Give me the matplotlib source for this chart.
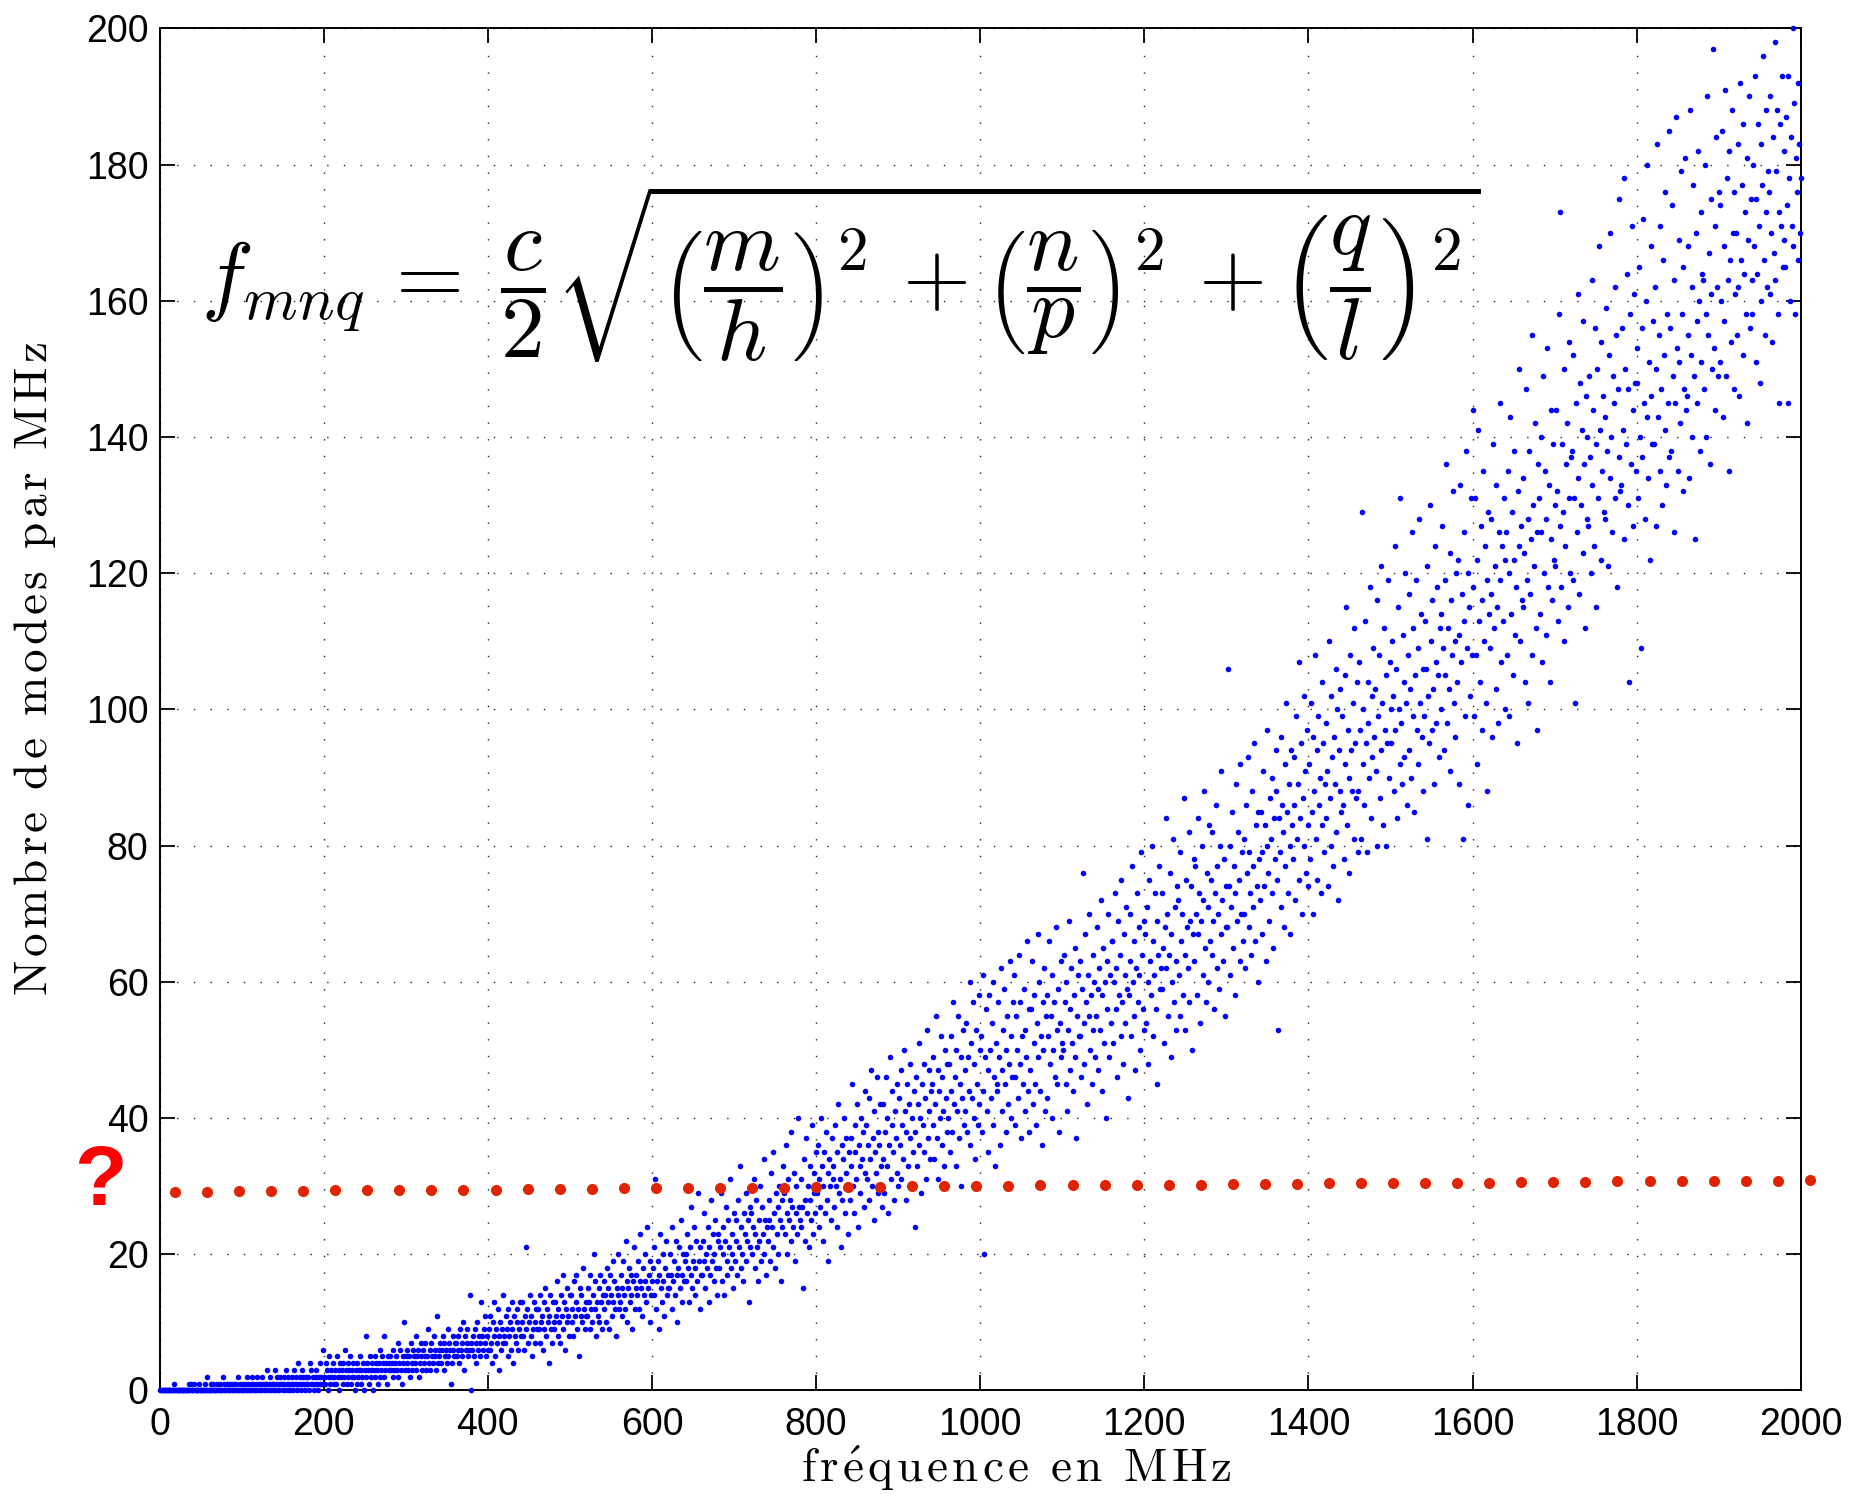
import numpy as np
import matplotlib
matplotlib.use('Agg')
import matplotlib.pyplot as plt

plt.rcParams['mathtext.fontset'] = 'cm'
plt.rcParams['font.family'] = ['Liberation Sans', 'DejaVu Sans']

# number of modes counted in each 1 MHz bin, 20 bins per row
modes_0_200 = [
    0,0,0,0,0,0,0,0,0,0,0,0,0,0,0,0,0,1,0,0,
    0,0,0,0,0,0,0,0,0,0,0,0,0,0,0,1,0,1,0,0,
    0,1,0,0,0,0,0,1,0,0,0,0,0,0,1,0,0,2,0,0,
    0,1,0,0,1,0,0,0,0,1,0,0,1,0,0,0,2,0,1,0,
    0,1,0,1,0,0,1,0,0,0,1,0,1,0,0,2,0,1,0,0,
    1,0,0,1,0,2,0,1,0,0,1,0,2,1,0,0,1,0,2,0,
    1,0,1,0,2,1,0,1,0,1,3,0,1,0,2,0,1,1,0,3,
    0,1,2,0,1,0,2,1,1,0,1,2,0,3,1,0,2,1,0,1,
    2,1,0,3,1,2,0,1,4,1,2,0,1,3,2,1,0,2,1,1,
    2,0,4,1,3,1,2,0,1,2,3,1,0,2,4,1,2,1,6,2,
]
modes_200_400 = [
    1,2,4,3,0,2,5,1,3,2,4,1,2,3,1,5,2,3,0,4,
    2,3,1,4,2,6,3,1,2,4,3,5,1,2,3,4,2,0,3,1,
    4,2,3,5,1,3,2,4,0,3,8,2,4,3,1,5,3,2,4,0,
    3,5,2,4,3,1,4,6,2,3,5,4,8,2,3,4,1,5,3,4,
    5,3,4,2,6,3,4,5,3,7,2,4,6,3,1,5,4,10,3,5,
    4,6,3,5,2,7,4,3,6,5,4,8,3,5,6,2,4,7,5,3,
    6,4,5,7,3,5,9,4,6,3,7,5,4,8,6,5,3,11,4,6,
    5,7,4,6,8,3,7,5,6,4,9,5,7,6,1,4,8,6,5,7,
    7,5,8,6,4,9,6,7,5,10,3,8,6,7,9,5,6,14,7,0,
    6,8,5,9,7,4,10,6,8,7,5,13,8,6,9,7,11,5,8,6,
]
modes_400_600 = [
    9,6,11,7,4,10,8,13,5,9,7,12,3,8,10,6,9,14,7,8,
    7,11,9,5,12,8,10,6,13,9,4,11,8,7,12,10,6,9,13,8,
    10,13,8,6,11,21,9,12,7,10,14,8,11,5,9,13,10,7,12,9,
    12,9,7,14,10,11,6,13,9,15,8,12,10,4,11,14,9,7,13,10,
    9,13,11,16,8,12,10,7,14,11,17,9,13,6,12,10,15,11,8,14,
    14,10,12,8,16,11,13,17,9,12,5,15,11,14,10,18,12,9,13,11,
    11,15,13,9,17,12,10,14,20,12,16,8,13,11,15,10,17,13,9,14,
    16,12,14,10,18,13,15,9,17,14,11,19,13,16,12,8,15,14,20,12,
    13,17,15,11,19,14,12,22,16,10,15,18,13,17,14,9,16,21,12,15,
    17,14,19,12,16,23,15,11,18,14,20,16,13,24,15,17,10,19,14,16,
]
modes_600_800 = [
    18,14,21,31,12,16,19,9,17,23,15,13,20,16,11,18,22,14,17,15,
    15,20,17,12,24,16,19,14,22,17,10,18,21,15,25,13,17,20,16,19,
    20,16,23,18,13,21,27,17,15,19,24,14,18,22,16,29,19,12,21,17,
    17,22,19,26,15,20,18,24,13,21,17,28,19,23,16,20,25,18,14,22,
    23,18,21,29,16,24,20,14,22,27,19,17,25,21,31,18,23,20,15,26,
    19,25,22,17,28,21,33,18,24,20,16,26,23,19,29,22,25,13,21,27,
    26,20,24,31,18,23,28,21,16,25,22,30,19,27,23,34,20,25,17,24,
    22,28,25,19,32,24,21,35,26,18,29,23,27,20,30,25,16,28,24,33,
    29,23,36,26,20,31,25,28,22,38,27,24,32,19,26,30,23,40,27,25,
    24,31,27,15,34,28,22,37,26,30,21,33,28,25,39,23,29,32,26,35,
]
modes_800_1000 = [
    29,36,24,31,27,40,33,22,30,35,26,38,28,32,19,34,30,25,37,31,
    33,27,39,30,24,35,42,29,31,21,36,28,34,40,26,32,37,30,23,35,
    28,37,33,45,30,26,39,35,31,42,24,36,33,29,40,34,38,27,44,32,
    39,31,36,28,43,34,47,30,37,25,41,35,32,46,38,29,36,42,33,27,
    34,42,29,38,46,33,40,26,36,49,31,39,44,35,28,41,37,32,45,30,
    43,36,31,47,39,34,50,41,28,38,45,33,42,37,48,30,40,35,44,24,
    38,46,33,42,51,36,40,29,45,39,48,35,43,31,53,37,41,47,34,44,
    45,39,49,34,42,55,37,47,31,44,40,52,36,46,41,33,50,43,38,48,
    40,48,35,52,44,38,57,42,46,33,50,41,55,37,45,49,30,43,53,39,
    47,41,54,38,49,44,60,36,51,43,57,40,48,34,53,45,39,58,42,50,
]
modes_1000_1200 = [
    52,38,61,44,20,49,56,41,47,35,58,50,43,54,39,60,46,33,51,45,
    44,57,49,36,62,47,41,53,59,45,38,50,55,42,48,63,40,52,46,57,
    61,46,39,55,50,43,64,48,57,37,52,45,59,41,53,49,66,44,56,38,
    47,56,63,42,51,58,45,39,54,67,49,60,44,52,36,57,50,62,41,55,
    58,43,52,66,48,55,61,40,50,57,46,68,53,45,59,38,54,63,49,51,
    50,64,57,45,60,41,53,69,47,56,62,51,44,58,65,49,37,55,61,52,
    63,52,46,59,76,54,48,67,57,42,61,55,70,50,58,45,64,53,60,49,
    55,68,59,47,62,53,72,44,58,65,51,60,40,63,56,70,49,61,54,66,
    66,51,60,73,56,62,46,69,58,64,52,75,57,48,67,61,54,71,59,43,
    58,70,63,52,77,60,55,66,47,62,73,57,68,61,50,79,64,56,69,53,
]
modes_1200_1400 = [
    67,54,71,60,48,75,63,58,80,52,66,61,73,56,69,45,64,77,59,62,
    59,73,65,51,68,84,62,70,55,64,76,49,67,60,81,57,71,63,53,74,
    72,61,55,79,66,70,58,87,64,53,75,68,62,82,57,69,74,50,67,78,
    63,77,70,58,84,67,73,54,69,80,61,72,88,65,57,76,71,60,83,66,
    75,64,82,69,56,73,86,62,77,70,59,80,67,91,72,63,78,55,74,68,
    68,106,74,61,80,71,85,65,77,58,73,89,69,82,75,63,92,70,79,66,
    81,70,62,86,76,93,68,79,73,64,88,77,71,95,66,83,74,60,85,78,
    72,85,79,67,91,74,83,63,80,97,76,69,87,81,73,90,65,84,78,94,
    88,75,53,84,79,96,71,86,82,68,92,77,101,85,73,89,80,67,94,83,
    78,93,86,72,99,81,89,107,75,84,95,70,87,80,102,91,76,97,83,74,
]
modes_1400_1600 = [
    92,78,101,85,70,96,88,108,81,94,75,99,86,90,73,104,83,95,79,89,
    84,98,91,74,110,87,80,102,93,77,96,89,106,82,100,72,94,88,103,85,
    99,86,78,105,92,115,83,97,90,76,108,94,88,101,81,112,95,87,104,79,
    88,107,97,81,129,92,100,86,113,95,79,104,98,90,118,84,102,93,109,96,
    103,91,116,80,99,108,87,121,94,101,83,112,97,105,80,95,119,90,107,100,
    95,110,102,88,124,97,106,84,115,100,92,131,98,89,111,104,93,120,101,86,
    108,94,117,103,90,126,99,112,85,105,119,97,109,92,128,101,114,96,106,88,
    99,113,106,81,121,102,95,130,110,97,116,103,89,124,107,98,118,105,93,112,
    114,100,127,109,94,119,105,136,98,112,103,123,91,116,108,132,101,110,96,120,
    104,122,111,89,133,107,117,81,126,113,99,138,109,86,120,115,102,131,108,144,
]
modes_1600_1800 = [
    118,99,131,108,122,92,141,113,104,127,116,97,135,110,124,101,119,88,129,114,
    109,128,117,96,139,112,121,103,133,115,98,126,119,145,107,124,113,131,100,122,
    126,108,135,120,99,143,114,129,105,122,138,111,118,95,132,124,150,110,127,116,
    115,134,123,104,147,119,128,101,138,117,125,155,108,130,121,142,112,126,97,136,
    131,114,140,126,107,149,120,135,111,128,153,118,133,104,144,125,116,139,122,130,
    121,144,132,113,158,127,173,118,139,129,110,150,124,136,142,115,131,154,120,137,
    138,119,152,131,101,145,126,161,134,117,148,130,141,123,157,136,112,146,128,140,
    127,149,137,120,163,133,144,124,156,139,115,150,131,168,141,122,154,135,146,129,
    143,128,159,138,121,152,134,170,140,126,149,145,162,131,155,118,147,137,175,132,
    133,156,141,178,125,150,139,164,130,147,104,158,136,171,144,127,161,148,135,153,
]
modes_1800_2000 = [
    148,131,165,140,109,156,137,172,145,128,160,143,180,134,151,122,168,146,139,157,
    139,162,150,127,183,143,155,135,171,147,130,166,152,141,176,133,158,145,185,137,
    156,138,174,149,126,163,145,187,153,135,169,151,142,179,158,132,165,147,181,144,
    146,168,155,134,188,152,162,140,177,149,125,170,157,145,182,160,138,173,151,164,
    163,147,180,158,140,190,155,167,136,175,161,150,197,153,171,144,184,162,149,176,
    151,174,160,185,143,168,157,191,149,178,163,135,182,166,154,188,170,147,176,161,
    170,155,183,162,146,192,166,177,152,186,164,173,158,142,181,169,190,156,175,163,
    158,180,168,193,151,175,164,186,171,148,183,160,177,196,166,155,188,173,162,179,
    176,161,190,170,154,184,167,198,163,179,188,158,173,145,186,171,193,165,182,169,
    165,187,174,145,193,178,160,184,171,200,168,189,158,181,176,192,166,183,170,178,
]

# red reference level
level_f = [19, 58, 97, 136, 175, 214, 253, 292, 331, 370, 410, 449, 488, 527,
           566, 605, 644, 683, 722, 761, 800, 839, 878, 917, 956, 995, 1034,
           1073, 1113, 1152, 1191, 1230, 1269, 1308, 1347, 1386, 1425, 1464,
           1503, 1542, 1581, 1620, 1659, 1698, 1737, 1776, 1816, 1855, 1894,
           1933, 1972, 2011]
level_n = [29.2, 29.2, 29.3, 29.3, 29.3, 29.4, 29.4, 29.4, 29.5, 29.5, 29.5,
           29.6, 29.6, 29.6, 29.7, 29.7, 29.7, 29.8, 29.8, 29.8, 29.9, 29.9,
           29.9, 30.0, 30.0, 30.0, 30.0, 30.1, 30.1, 30.1, 30.2, 30.2, 30.2,
           30.3, 30.3, 30.3, 30.4, 30.4, 30.4, 30.5, 30.5, 30.5, 30.6, 30.6,
           30.6, 30.7, 30.7, 30.7, 30.8, 30.8, 30.8, 30.9]

modes = np.array(modes_0_200 + modes_200_400 + modes_400_600 + modes_600_800 +
                 modes_800_1000 + modes_1000_1200 + modes_1200_1400 +
                 modes_1400_1600 + modes_1600_1800 + modes_1800_2000)
freq = np.arange(1, len(modes) + 1)

fig = plt.figure(figsize=(18.54, 14.94), dpi=100)
ax = fig.add_axes([0.0861, 0.0693, 0.8852, 0.9117])

ax.plot(freq, modes, 'o', color='#0000ff', markersize=4.0, markeredgewidth=0,
        clip_on=False, zorder=3)
ax.plot(level_f, level_n, 'o', color='#e12400', markersize=8, markeredgewidth=0,
        clip_on=False, zorder=4)

ax.set_xlim(0, 2000)
ax.set_ylim(0, 200)
ax.set_xticks(np.arange(0, 2001, 200))
ax.set_yticks(np.arange(0, 201, 20))
ax.tick_params(direction='in', length=11, width=1.3, labelsize=27,
               top=True, right=True)
ax.tick_params(axis='x', pad=12)
ax.tick_params(axis='y', pad=8)
for s in ax.spines.values():
    s.set_linewidth(1.4)
ax.grid(True, color='#222222', linestyle=(0, (1, 11)), linewidth=1.0)
ax.set_axisbelow(True)


def spaced(txt):
    # roman letters with a little extra tracking
    parts = []
    for ch in txt:
        if ch == ' ':
            parts.append(r'\ ')
        elif ch == 'é':
            parts.append(r'\acute{e}')
        else:
            parts.append(ch)
    return r'$\mathrm{' + r'\hspace{0.1}'.join(parts) + '}$'


ax.set_xlabel(spaced('fréquence en MHz'), fontsize=34)
ax.set_ylabel(spaced('Nombre de modes par MHz'), fontsize=34)
ax.xaxis.set_label_coords(0.522, -0.039)
ax.yaxis.set_label_coords(-0.062, 0.53)

ax.text(50, 164,
        r'$f_{mnq}\,=\;\dfrac{c}{2}\sqrt{\left(\dfrac{m}{h}\right)^2\, + '
        r'\left(\dfrac{n}{p}\right)^2\, + \left(\dfrac{q}{l}\right)^2}$',
        fontsize=63, ha='left', va='center')

ax.text(-72, 30.5, '?', color='#ff0000', fontsize=62, fontweight='bold',
        ha='center', va='center', clip_on=False)

fig.savefig('out.png', dpi=100)
